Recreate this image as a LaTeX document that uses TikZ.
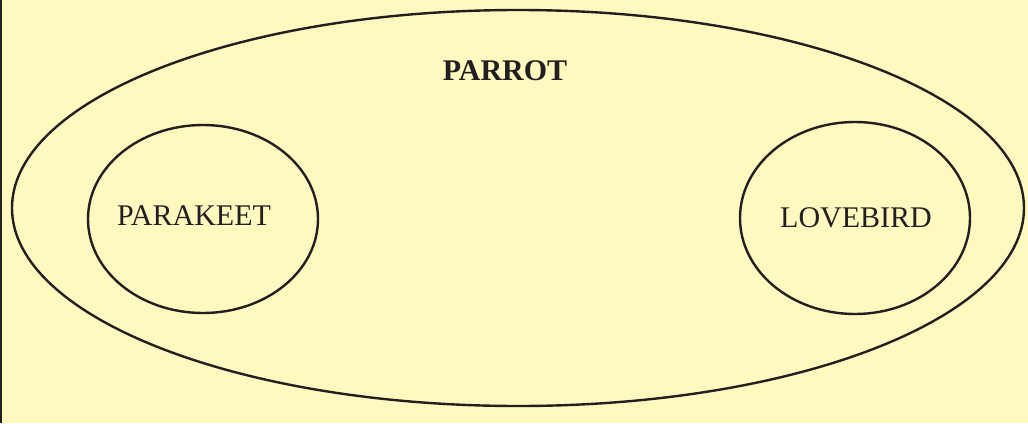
\documentclass[tikz,border=0pt]{standalone}
\usepackage{fontspec}
\setmainfont{Liberation Serif}
\usetikzlibrary{shapes.geometric}
\definecolor{pad}{HTML}{FFF9C0}
\definecolor{ink}{HTML}{231F20}
\tikzset{
  set/.style={draw=ink, ellipse, line width=2.4pt, inner sep=0pt},
  birdlbl/.style={font=\fontsize{30}{34}\selectfont, text=ink, inner sep=0pt}
}

\begin{document}
\begin{tikzpicture}[x=1pt, y=-1pt]
\fill[pad] (0,0) rectangle (1028,423);
\useasboundingbox (0,0) rectangle (1028,423);
\draw[ink, line width=2.5pt] (1,0) -- (1,423);
\node[set, minimum width=1012pt, minimum height=396pt] (parrot) at (518,208) {};
\node[set, minimum width=230pt, minimum height=188pt] (parakeet) at (203,219) {};
\node[set, minimum width=230pt, minimum height=192pt] (lovebird) at (855,218) {};
\node[birdlbl, font=\fontsize{30}{34}\selectfont\bfseries] (parrotlbl) at (505,71) {PARROT};
\node[birdlbl] (parakeetlbl) at (194,216) {PARAKEET};
\node[birdlbl] (lovebirdlbl) at (856,218) {LOVEBIRD};
\end{tikzpicture}
\end{document}
